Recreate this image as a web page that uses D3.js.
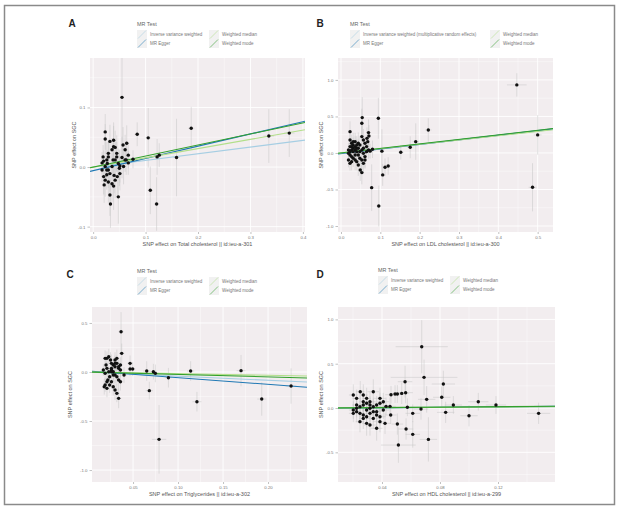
<!DOCTYPE html>
<html>
<head>
<meta charset="utf-8">
<script src="https://cdn.jsdelivr.net/npm/d3@7"></script>
<style>
  body { margin: 0; background: #fff; }
  svg { display: block; font-family: "Liberation Sans", Arial, sans-serif; }
</style>
</head>
<body>
<script>
// MR methods, same order in every panel
const methods = ["Inverse variance weighted", "MR Egger", "Weighted median", "Weighted mode"];
const methodsB = ["Inverse variance weighted (multiplicative random effects)", "MR Egger", "Weighted median", "Weighted mode"];
const methodColors = ["#a6cee3", "#1f78b4", "#b2df8a", "#33a02c"];

// [intercept, slope] per method
const linesA = [[0, 0.112], [-0.006, 0.205], [0, 0.155], [0, 0.185]];
const linesB = [[0, 0.60], [-0.01, 0.63], [0, 0.59], [0, 0.62]];
const linesC = [[0, -0.42], [0.01, -0.68], [0, -0.17], [0, -0.25]];
const linesD = [[0, 0.10], [-0.004, 0.14], [0, 0.09], [0, 0.12]];

// SNPs: [beta exposure, beta outcome, se exposure, se outcome]
const snpsA = [
  [0.023,0.059,0.003,0.030],[0.023,0.047,0.003,0.025],[0.032,0.043,0.003,0.028],[0.039,0.034,0.004,0.035],
  [0.036,0.029,0.003,0.020],[0.029,0.023,0.003,0.022],[0.026,0.012,0.003,0.030],[0.020,0.010,0.002,0.018],
  [0.023,0.001,0.003,0.025],[0.029,-0.005,0.003,0.030],[0.036,0.001,0.003,0.022],[0.042,0.012,0.004,0.035],
  [0.045,0.023,0.004,0.030],[0.048,0.006,0.004,0.025],[0.051,0.002,0.004,0.028],[0.058,0.001,0.005,0.030],
  [0.061,0.012,0.005,0.020],[0.061,0.029,0.005,0.025],[0.064,0.040,0.005,0.030],[0.067,0.020,0.005,0.022],
  [0.055,0.016,0.004,0.035],[0.039,0.045,0.003,0.030],[0.042,0.033,0.003,0.028],[0.032,-0.011,0.003,0.030],
  [0.026,-0.013,0.003,0.025],[0.020,-0.016,0.002,0.030],[0.023,-0.022,0.003,0.028],[0.029,-0.025,0.003,0.035],
  [0.036,-0.028,0.003,0.030],[0.039,-0.032,0.004,0.040],[0.032,-0.047,0.003,0.035],[0.033,-0.062,0.003,0.040],
  [0.048,-0.050,0.004,0.045],[0.042,-0.022,0.004,0.030],[0.051,-0.011,0.004,0.028],[0.017,-0.005,0.002,0.020],
  [0.021,-0.030,0.002,0.030],[0.027,0.006,0.003,0.022],[0.045,0.017,0.004,0.025],[0.057,0.037,0.005,0.030],
  [0.063,0.012,0.005,0.025],[0.067,0.007,0.005,0.020],[0.050,-0.002,0.004,0.030],[0.019,0.017,0.002,0.020],
  [0.029,0.017,0.003,0.025],[0.038,0.012,0.003,0.028],[0.040,-0.014,0.004,0.030],[0.046,-0.016,0.004,0.035],
  [0.026,-0.005,0.003,0.022],[0.017,0.007,0.002,0.018],
  [0.055,0.117,0.004,0.120],[0.187,0.065,0.006,0.036],[0.335,0.052,0.010,0.045],[0.374,0.057,0.010,0.040],
  [0.105,0.049,0.005,0.050],[0.109,-0.039,0.005,0.040],[0.084,0.055,0.005,0.020],[0.121,-0.062,0.005,0.045],
  [0.122,0.017,0.005,0.030],[0.126,0.020,0.005,0.020],[0.159,0.016,0.006,0.065],[0.076,0.013,0.004,0.015]
];
const snpsB = [
  [0.023,0.178,0.003,0.10],[0.027,0.132,0.003,0.12],[0.031,0.110,0.003,0.10],[0.036,0.087,0.004,0.14],
  [0.040,0.064,0.004,0.12],[0.044,0.132,0.004,0.15],[0.048,0.110,0.004,0.12],[0.053,0.224,0.005,0.20],
  [0.057,0.178,0.005,0.15],[0.061,0.132,0.005,0.12],[0.065,0.087,0.005,0.10],[0.031,0.064,0.003,0.10],
  [0.027,0.041,0.003,0.12],[0.023,0.018,0.003,0.10],[0.019,-0.005,0.002,0.10],[0.023,-0.027,0.003,0.12],
  [0.027,-0.050,0.003,0.10],[0.031,-0.073,0.003,0.12],[0.036,-0.096,0.004,0.14],[0.040,-0.119,0.004,0.12],
  [0.044,-0.027,0.004,0.10],[0.048,0.018,0.004,0.12],[0.053,0.041,0.005,0.10],[0.057,-0.005,0.005,0.12],
  [0.061,-0.050,0.005,0.15],[0.036,0.041,0.004,0.10],[0.040,0.018,0.004,0.10],[0.044,0.064,0.004,0.12],
  [0.048,-0.073,0.004,0.12],[0.053,-0.096,0.005,0.15],[0.057,-0.142,0.005,0.14],[0.061,-0.096,0.005,0.12],
  [0.044,-0.164,0.004,0.15],[0.049,-0.233,0.004,0.15],[0.053,-0.269,0.005,0.16],[0.027,-0.119,0.003,0.12],
  [0.023,-0.142,0.003,0.10],[0.019,-0.096,0.002,0.10],[0.031,0.018,0.003,0.10],[0.036,-0.027,0.004,0.10],
  [0.040,0.110,0.004,0.12],[0.031,0.155,0.003,0.12],[0.065,0.018,0.005,0.10],[0.057,0.064,0.005,0.12],
  [0.023,0.087,0.003,0.10],[0.019,0.041,0.002,0.10],[0.070,0.041,0.005,0.12],[0.066,0.200,0.005,0.15],
  [0.036,0.155,0.004,0.12],[0.027,0.087,0.003,0.10],
  [0.447,0.932,0.025,0.16],[0.487,-0.470,0.010,0.33],[0.500,0.247,0.010,0.27],[0.222,0.315,0.008,0.16],
  [0.190,0.155,0.008,0.25],[0.176,0.078,0.008,0.15],[0.152,0.009,0.007,0.10],[0.104,0.025,0.006,0.30],
  [0.095,0.475,0.006,0.28],[0.096,-0.726,0.006,0.28],[0.106,-0.300,0.006,0.15],[0.112,-0.196,0.006,0.12],
  [0.120,-0.178,0.006,0.12],[0.078,-0.475,0.005,0.32],[0.080,0.050,0.005,0.12],[0.074,0.025,0.005,0.10],
  [0.054,0.484,0.005,0.28],[0.053,0.406,0.005,0.20],[0.070,0.279,0.005,0.18],[0.071,0.233,0.005,0.15],
  [0.068,0.155,0.005,0.12],[0.023,0.292,0.003,0.14]
];
const snpsC = [
  [0.019,0.139,0.002,0.08],[0.021,0.139,0.002,0.07],[0.023,0.156,0.002,0.08],[0.026,0.088,0.002,0.09],
  [0.028,0.071,0.002,0.07],[0.030,0.122,0.003,0.08],[0.032,0.139,0.003,0.09],[0.030,0.054,0.003,0.07],
  [0.026,0.037,0.002,0.08],[0.021,0.037,0.002,0.06],[0.017,0.020,0.002,0.06],[0.019,-0.014,0.002,0.07],
  [0.023,0.003,0.002,0.06],[0.026,0.020,0.002,0.07],[0.028,0.003,0.002,0.08],[0.030,-0.031,0.003,0.08],
  [0.032,-0.048,0.003,0.09],[0.034,-0.082,0.003,0.10],[0.021,-0.099,0.002,0.08],[0.019,-0.133,0.002,0.07],
  [0.018,-0.150,0.002,0.08],[0.021,-0.167,0.002,0.09],[0.024,-0.133,0.002,0.08],[0.026,-0.099,0.002,0.07],
  [0.028,-0.150,0.002,0.09],[0.030,-0.184,0.003,0.10],[0.032,-0.218,0.003,0.09],[0.034,-0.269,0.003,0.10],
  [0.036,0.020,0.003,0.07],[0.034,0.037,0.003,0.06],[0.032,0.088,0.003,0.08],[0.024,-0.048,0.002,0.07],
  [0.022,-0.082,0.002,0.08],[0.028,-0.031,0.002,0.07],[0.036,-0.099,0.003,0.09],[0.020,0.071,0.002,0.07],
  [0.026,0.003,0.002,0.06],[0.030,0.088,0.003,0.08],[0.034,0.054,0.003,0.07],[0.036,0.071,0.003,0.08],
  [0.025,0.122,0.002,0.08],
  [0.0367,0.411,0.003,0.20],[0.0789,-0.687,0.008,0.35],[0.121,-0.303,0.005,0.10],[0.114,0.010,0.004,0.10],
  [0.170,0.014,0.005,0.16],[0.193,-0.276,0.005,0.17],[0.2256,-0.143,0.006,0.18],[0.0893,-0.058,0.004,0.10],
  [0.0681,-0.190,0.004,0.09],[0.0652,0.010,0.004,0.10],[0.0726,0.003,0.004,0.08],[0.0748,-0.014,0.004,0.09],
  [0.0467,0.088,0.003,0.08],[0.0467,0.031,0.003,0.07],[0.0496,0.031,0.003,0.07],[0.0374,0.190,0.003,0.10],
  [0.040,-0.031,0.003,0.08]
];
const snpsD = [
  [0.0202,0.147,0.003,0.12],[0.0250,0.184,0.003,0.12],[0.0225,0.109,0.003,0.10],[0.0271,0.071,0.003,0.12],
  [0.0294,0.053,0.003,0.10],[0.0317,0.071,0.004,0.12],[0.0271,0.034,0.003,0.10],[0.0248,0.015,0.003,0.12],
  [0.0225,-0.004,0.003,0.10],[0.0202,-0.023,0.003,0.10],[0.0225,-0.041,0.003,0.12],[0.0248,-0.060,0.003,0.12],
  [0.0271,-0.079,0.003,0.10],[0.0294,-0.098,0.003,0.12],[0.0317,-0.060,0.004,0.10],[0.0340,-0.041,0.004,0.12],
  [0.0363,-0.079,0.004,0.12],[0.0386,-0.098,0.004,0.10],[0.0340,-0.117,0.004,0.12],[0.0248,-0.154,0.003,0.12],
  [0.0294,-0.173,0.003,0.14],[0.0317,-0.192,0.004,0.12],[0.0363,-0.229,0.004,0.14],[0.0386,-0.154,0.004,0.12],
  [0.0340,0.015,0.004,0.10],[0.0363,0.034,0.004,0.10],[0.0386,0.053,0.004,0.12],[0.0409,-0.023,0.004,0.10],
  [0.0317,-0.004,0.004,0.10],[0.0294,0.109,0.003,0.12],[0.0271,0.147,0.003,0.12],[0.0340,0.184,0.004,0.14],
  [0.0386,0.109,0.004,0.12],[0.0409,0.071,0.004,0.10],[0.0363,-0.041,0.004,0.10],[0.0225,0.034,0.003,0.10],
  [0.0202,-0.060,0.003,0.10],[0.0271,-0.117,0.003,0.12],[0.0317,0.034,0.004,0.10],[0.0294,-0.023,0.003,0.10],
  [0.0674,0.692,0.018,0.30],[0.0690,0.346,0.023,0.20],[0.0823,0.271,0.008,0.15],[0.0812,0.121,0.006,0.12],
  [0.0708,0.098,0.006,0.15],[0.0559,0.297,0.005,0.18],[0.0563,0.173,0.005,0.12],[0.0536,0.165,0.005,0.12],
  [0.0506,0.158,0.004,0.10],[0.0490,0.158,0.004,0.10],[0.0462,0.150,0.004,0.10],[0.0513,-0.418,0.012,0.20],
  [0.0566,-0.237,0.005,0.12],[0.0612,-0.297,0.005,0.15],[0.0720,-0.354,0.006,0.25],[0.0612,-0.060,0.005,0.10],
  [0.0669,-0.011,0.005,0.12],[0.0839,-0.049,0.006,0.12],[0.0892,0.034,0.006,0.10],[0.1000,-0.087,0.006,0.12],
  [0.1064,0.071,0.007,0.10],[0.1186,0.034,0.007,0.10],[0.1480,-0.060,0.008,0.12],[0.0575,0.008,0.005,0.10],
  [0.0506,-0.181,0.004,0.12],[0.0455,0.019,0.004,0.10],[0.0460,-0.079,0.004,0.10],[0.0428,0.019,0.004,0.10],
  [0.0421,-0.173,0.004,0.12]
];

// axis breaks
const xTicksA = [0, 0.1, 0.2, 0.3, 0.4];
const yTicksA = [-0.1, 0, 0.1];
const xTicksB = [0, 0.1, 0.2, 0.3, 0.4, 0.5];
const yTicksB = [-1, -0.5, 0, 0.5, 1];
const xTicksC = [0.05, 0.10, 0.15, 0.20];
const yTicksC = [-1, -0.5, 0, 0.5];
const xTicksD = [0.04, 0.08, 0.12];
const yTicksD = [-0.5, 0, 0.5, 1];

const xTitles = [
  "SNP effect on Total cholesterol || id:ieu-a-301",
  "SNP effect on LDL cholesterol || id:ieu-a-300",
  "SNP effect on Triglycerides || id:ieu-a-302",
  "SNP effect on HDL cholesterol || id:ieu-a-299"
];
const yTitle = "SNP effect on SGC";

const W = 619, H = 509;
const svg = d3.select("body").append("svg").attr("width", W).attr("height", H);

svg.append("rect")
  .attr("x", 4.5).attr("y", 5.5).attr("width", 610).attr("height", 499)
  .attr("fill", "none").attr("stroke", "#8a8a8a").attr("stroke-width", 1.5);

const panels = [
  { id: "A", snps: snpsA, lines: linesA, labels: methods, xt: xTicksA, yt: yTicksA, xf: ".1f", yf: ".1f",
    x0: 90, x1: 305, y0: 58, y1: 232, xd: [-0.006, 0.404], yd: [-0.109, 0.183],
    letter: [72, 27], leg: [137, 24], legCol: 72, ytx: 76 },
  { id: "B", snps: snpsB, lines: linesB, labels: methodsB, xt: xTicksB, yt: yTicksB, xf: ".1f", yf: ".1f",
    x0: 338, x1: 553, y0: 58, y1: 232, xd: [-0.0076, 0.539], yd: [-1.082, 1.30],
    letter: [320, 27], leg: [350, 24], legCol: 140, ytx: 323 },
  { id: "C", snps: snpsC, lines: linesC, labels: methods, xt: xTicksC, yt: yTicksC, xf: ".2f", yf: ".1f",
    x0: 92, x1: 307, y0: 307, y1: 482, xd: [0.0044, 0.2433], yd: [-1.122, 0.663],
    letter: [70, 278], leg: [137, 271], legCol: 72, ytx: 72 },
  { id: "D", snps: snpsD, lines: linesD, labels: methods, xt: xTicksD, yt: yTicksD, xf: ".2f", yf: ".1f",
    x0: 338, x1: 555, y0: 307, y1: 482, xd: [0.00966, 0.1593], yd: [-0.835, 1.140],
    letter: [320, 278], leg: [378, 270], legCol: 72, ytx: 323 }
];

const minus = f => v => d3.format(f)(v).replace("\u2212", "-");

function minorOf(ticks, dom) {
  const step = ticks.length > 1 ? ticks[1] - ticks[0] : 0.1;
  const out = [];
  for (let i = -1; i < ticks.length; i++) {
    const m = (i < 0 ? ticks[0] - step : ticks[i]) + step / 2;
    if (m > dom[0] && m < dom[1]) out.push(m);
  }
  return out;
}

panels.forEach((p, pi) => {
  const g = svg.append("g");
  const x = d3.scaleLinear().domain(p.xd).range([p.x0, p.x1]);
  const y = d3.scaleLinear().domain(p.yd).range([p.y1, p.y0]);

  g.append("rect").attr("x", p.x0).attr("y", p.y0)
    .attr("width", p.x1 - p.x0).attr("height", p.y1 - p.y0).attr("fill", "#f2edef");

  const clipId = "clip" + p.id;
  svg.append("clipPath").attr("id", clipId).append("rect")
    .attr("x", p.x0).attr("y", p.y0).attr("width", p.x1 - p.x0).attr("height", p.y1 - p.y0);

  // grid
  const grid = g.append("g");
  grid.selectAll(".gxm").data(minorOf(p.xt, p.xd)).enter().append("line")
    .attr("x1", d => x(d)).attr("x2", d => x(d)).attr("y1", p.y0).attr("y2", p.y1)
    .attr("stroke", "#fff").attr("stroke-width", 0.4);
  grid.selectAll(".gym").data(minorOf(p.yt, p.yd)).enter().append("line")
    .attr("y1", d => y(d)).attr("y2", d => y(d)).attr("x1", p.x0).attr("x2", p.x1)
    .attr("stroke", "#fff").attr("stroke-width", 0.4);
  grid.selectAll(".gx").data(p.xt).enter().append("line")
    .attr("x1", d => x(d)).attr("x2", d => x(d)).attr("y1", p.y0).attr("y2", p.y1)
    .attr("stroke", "#fff").attr("stroke-width", 0.9);
  grid.selectAll(".gy").data(p.yt).enter().append("line")
    .attr("y1", d => y(d)).attr("y2", d => y(d)).attr("x1", p.x0).attr("x2", p.x1)
    .attr("stroke", "#fff").attr("stroke-width", 0.9);

  const inner = g.append("g").attr("clip-path", "url(#" + clipId + ")");

  // error bars
  inner.selectAll(".ev").data(p.snps).enter().append("line")
    .attr("x1", d => x(d[0])).attr("x2", d => x(d[0]))
    .attr("y1", d => y(d[1] - d[3])).attr("y2", d => y(d[1] + d[3]))
    .attr("stroke", "#c4c4c4").attr("stroke-width", 0.5);
  inner.selectAll(".eh").data(p.snps).enter().append("line")
    .attr("y1", d => y(d[1])).attr("y2", d => y(d[1]))
    .attr("x1", d => x(d[0] - d[2])).attr("x2", d => x(d[0] + d[2]))
    .attr("stroke", "#c4c4c4").attr("stroke-width", 0.5);

  // MR fits
  inner.selectAll(".fit").data(p.lines).enter().append("line")
    .attr("x1", x(p.xd[0])).attr("x2", x(p.xd[1]))
    .attr("y1", d => y(d[0] + d[1] * p.xd[0])).attr("y2", d => y(d[0] + d[1] * p.xd[1]))
    .attr("stroke", (d, i) => methodColors[i]).attr("stroke-width", 1.1);

  // points
  inner.selectAll(".pt").data(p.snps).enter().append("circle")
    .attr("cx", d => x(d[0])).attr("cy", d => y(d[1])).attr("r", 1.7)
    .attr("fill", "#111");

  // axes
  const xa = g.append("g").attr("transform", "translate(0," + p.y1 + ")")
    .call(d3.axisBottom(x).tickValues(p.xt).tickFormat(minus(p.xf)).tickSize(2).tickPadding(1.5));
  const ya = g.append("g").attr("transform", "translate(" + p.x0 + ",0)")
    .call(d3.axisLeft(y).tickValues(p.yt).tickFormat(minus(p.yf)).tickSize(2.5).tickPadding(2));
  [xa, ya].forEach(a => {
    a.select(".domain").remove();
    a.selectAll(".tick line").attr("stroke", "#999").attr("stroke-width", 0.6);
    a.selectAll(".tick text").attr("fill", "#777").style("font-size", "4.3px")
      .style("font-family", "Liberation Sans, Arial, sans-serif");
  });

  g.append("text").attr("x", (p.x0 + p.x1) / 2).attr("y", p.y1 + 13.5)
    .attr("text-anchor", "middle").attr("fill", "#555").style("font-size", "5.5px")
    .text(xTitles[pi]);
  g.append("text").attr("transform", "translate(" + p.ytx + "," + ((p.y0 + p.y1) / 2) + ") rotate(-90)")
    .attr("text-anchor", "middle").attr("fill", "#555").style("font-size", "5.5px")
    .text(yTitle);

  // panel letter
  g.append("text").attr("x", p.letter[0]).attr("y", p.letter[1])
    .attr("text-anchor", "middle").attr("fill", "#222").style("font-size", "10px")
    .style("font-weight", "bold").text(p.id);

  // legend
  const lg = g.append("g").attr("transform", "translate(" + p.leg[0] + "," + p.leg[1] + ")");
  lg.append("text").attr("x", 0).attr("y", 2).attr("fill", "#666").style("font-size", "5.4px").text("MR Test");
  const items = lg.selectAll(".item").data(p.labels).enter().append("g")
    .attr("transform", (d, i) => "translate(" + (i >= 2 ? p.legCol : 0) + "," + (6 + (i % 2) * 9) + ")");
  items.append("rect").attr("x", 0).attr("y", 0).attr("width", 10).attr("height", 9).attr("fill", "#f1f1f1");
  items.append("line").attr("x1", 1).attr("y1", 8.5).attr("x2", 9).attr("y2", 0.5)
    .attr("stroke", (d, i) => methodColors[i]).attr("stroke-width", 0.8).attr("opacity", 0.7);
  items.append("text").attr("x", 13).attr("y", 6).attr("fill", "#777").style("font-size", "4.5px").text(d => d);
});
</script>
</body>
</html>
